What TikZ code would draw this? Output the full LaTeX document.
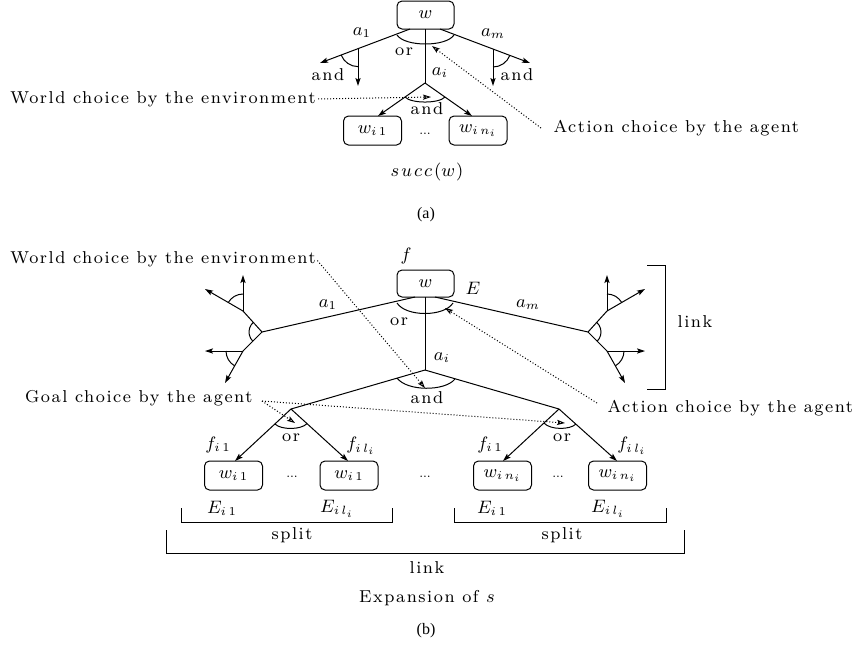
\documentclass[tikz,border=0pt]{standalone}
\usepackage{fontspec}
\setmainfont{lmroman8-regular.otf}[LetterSpace=9,ItalicFont=lmroman8-italic.otf,BoldFont=lmroman8-bold.otf]
\newfontfamily\capfont{Liberation Serif}
\usetikzlibrary{arrows.meta,angles}

\tikzset{
  lbl/.style={inner sep=0pt,font=\fontsize{8.6}{10}\selectfont},
  caplbl/.style={inner sep=0pt,font=\capfont\fontsize{8}{10}\selectfont},
  dotslbl/.style={inner sep=0pt,font=\addfontfeature{LetterSpace=0}\fontsize{6.5}{7}\selectfont},
  state/.style={draw,rounded corners=2.5pt,inner sep=0pt,minimum width=29pt,minimum height=14.5pt,font=\fontsize{8.6}{10}\selectfont},
  arr/.style={-{Stealth[length=4pt,width=2.6pt,inset=0.8pt]}},
  pointer/.style={dash pattern=on 0.5pt off 1pt,-{Stealth[length=4pt,width=2.6pt,inset=0.8pt,open]}},
  choice/.style={draw},
}

\begin{document}
\begin{tikzpicture}[x=0.5pt,y=-0.5pt,line width=0.5pt]
\path[use as bounding box,fill=white] (0,0) rectangle (856,645);

% ===================== (a) successors of a world =====================
\node[state,minimum width=28.5pt,minimum height=14pt] (wa) at (425.5,15) {$w$};
\coordinate (wa-l) at (410,29);
\coordinate (wa-m) at (425,29);
\coordinate (wa-r) at (440,29);
\coordinate (a1tip) at (320,63);
\coordinate (amtip) at (530,63);
\coordinate (aibr) at (425,83);
\draw[arr] (wa-l) -- (a1tip);
\draw[arr] (wa-r) -- (amtip);
\draw (wa-m) -- (aibr);
% or-choice over the actions
\draw (397,35) .. controls (405,47) and (446,47) .. (454,35);

% side actions, each with an and-choice
\coordinate (p1) at (358,48.6);
\coordinate (d1) at (358,86);
\draw[arr] (p1) -- (d1);
\pic[choice,angle radius=9pt] {angle=a1tip--p1--d1};
\coordinate (p2) at (493,49);
\coordinate (d2) at (493,86);
\draw[arr] (p2) -- (d2);
\pic[choice,angle radius=9pt] {angle=d2--p2--amtip};

% action a_i and its successor worlds
\node[state] (wai1) at (372.5,130.5) {$w_{i\,1}$};
\node[state] (wain) at (478,130.5) {$w_{i\,n_i}$};
\coordinate (ta1) at (378,116);
\coordinate (ta2) at (472,116);
\draw[arr] (aibr) -- (ta1);
\draw[arr] (aibr) -- (ta2);
\draw (405,97) .. controls (411,103.7) and (439,103.7) .. (445,97);

\node[lbl] (or-a) at (404,52) {or};
\node[lbl] (a1-a) at (362,33) {$a_1$};
\node[lbl] (am-a) at (493,34) {$a_m$};
\node[lbl] (ai-a) at (440,73) {$a_i$};
\node[lbl] (and-al) at (328,75) {and};
\node[lbl] (and-ar) at (517,75) {and};
\node[lbl] (and-am) at (427,109) {and};
\node[dotslbl] (dots-a) at (425,134) {...};
\node[lbl] (succ) at (427,172) {$s\mkern2mu u\mkern2mu c\mkern2mu c\mkern2mu(w\mkern1mu)$};
\node[caplbl] (cap-a) at (426,215) {(a)};

\node[lbl,anchor=west] (env-a) at (10,99) {World choice by the environment};
\node[lbl,anchor=west] (act-a) at (553,128) {Action choice by the agent};
\coordinate (env-a-tip) at (431,97);
\coordinate (act-a-from) at (541,128);
\coordinate (act-a-tip) at (432,46);
\draw[pointer,shorten <=1pt] (env-a.east) -- (env-a-tip);
\draw[pointer] (act-a-from) -- (act-a-tip);

% ===================== (b) expansion of a state =====================
\node[lbl] (f) at (406,256) {$f$};
\node[state,minimum width=28.5pt,minimum height=13.5pt] (wb) at (425.5,283.5) {$w$};
\node[lbl] (E) at (473,288) {$E$};
\coordinate (wb-l) at (415,297);
\coordinate (wb-m) at (425,297);
\coordinate (wb-r) at (435,297);
\coordinate (L) at (262,332);
\coordinate (R) at (588,332);
\coordinate (M) at (425,370);
\draw (wb-l) -- (L);
\draw (wb-r) -- (R);
\draw (wb-m) -- (M);
\draw (397,303) .. controls (406,317) and (444,317) .. (453,303);
\node[lbl] (or-b) at (399,322) {or};
\node[lbl] (a1-b) at (328,305) {$a_1$};
\node[lbl] (am-b) at (528,305) {$a_m$};
\node[lbl] (ai-b) at (442,358) {$a_i$};

% left action: two worlds, each with a goal choice
\coordinate (Lu) at (243,311);
\coordinate (Ll) at (243,351);
\coordinate (TLu1) at (205,289);
\coordinate (TLu2) at (243,275);
\coordinate (TLl1) at (205,351);
\coordinate (TLl2) at (225,383);
\draw (L) -- (Lu);
\draw (L) -- (Ll);
\draw[arr] (Lu) -- (TLu1);
\draw[arr] (Lu) -- (TLu2);
\draw[arr] (Ll) -- (TLl1);
\draw[arr] (Ll) -- (TLl2);
\pic[choice,angle radius=8.5pt] {angle=TLu2--Lu--TLu1};
\pic[choice,angle radius=8.5pt] {angle=TLl1--Ll--TLl2};
\pic[choice,angle radius=6.5pt] {angle=Lu--L--Ll};

% right action, mirrored
\coordinate (Ru) at (607,311);
\coordinate (Rl) at (607,351);
\coordinate (TRu1) at (607,275);
\coordinate (TRu2) at (645,289);
\coordinate (TRl1) at (645,351);
\coordinate (TRl2) at (625,383);
\draw (R) -- (Ru);
\draw (R) -- (Rl);
\draw[arr] (Ru) -- (TRu1);
\draw[arr] (Ru) -- (TRu2);
\draw[arr] (Rl) -- (TRl1);
\draw[arr] (Rl) -- (TRl2);
\pic[choice,angle radius=8.5pt] {angle=TRu2--Ru--TRu1};
\pic[choice,angle radius=8.5pt] {angle=TRl2--Rl--TRl1};
\pic[choice,angle radius=6.5pt] {angle=Rl--R--Ru};

% bracket for the link on the right
\draw (647,265) -- (665,265) -- (665,389) -- (647,389);
\node[lbl] (link-r) at (695,322) {link};

% action a_i: and-choice over worlds
\coordinate (Lb) at (291,409);
\coordinate (Rb) at (559,409);
\draw (M) -- (Lb);
\draw (M) -- (Rb);
\draw (397,378) .. controls (407,391.5) and (445,391.5) .. (455,379);
\node[lbl] (and-b) at (427,398) {and};

% goal choices of the first world
\node[state] (b1) at (233.5,475.5) {$w_{i\,1}$};
\node[state] (b2) at (349,475.5) {$w_{i\,1}$};
\coordinate (b1t) at (235,461);
\coordinate (b2t) at (348,461);
\draw[arr] (Lb) -- (b1t);
\draw[arr] (Lb) -- (b2t);
\draw (275,424) .. controls (281,430) and (301,430) .. (307,423.6);
\node[lbl] (or-bl) at (291,438) {or};

% goal choices of the last world
\node[state] (b3) at (502.5,475.5) {$w_{i\,n_i}$};
\node[state] (b4) at (617.5,475.5) {$w_{i\,n_i}$};
\coordinate (b3t) at (503,461);
\coordinate (b4t) at (617,461);
\draw[arr] (Rb) -- (b3t);
\draw[arr] (Rb) -- (b4t);
\draw (544,423) .. controls (550,430) and (570,430) .. (576,424);
\node[lbl] (or-br) at (562,438) {or};

\node[dotslbl] (dots1) at (292,477) {...};
\node[dotslbl] (dots2) at (425,477) {...};
\node[dotslbl] (dots3) at (558,477) {...};

\node[lbl] (f1) at (218,445) {$f_{i\,1}$};
\node[lbl] (f2) at (361,446) {$f_{i\,l_i}$};
\node[lbl] (f3) at (490,445) {$f_{i\,1}$};
\node[lbl] (f4) at (632,446) {$f_{i\,l_i}$};
\node[lbl] (E1) at (222,508) {$E_{i\,1}$};
\node[lbl] (E2) at (337,509) {$E_{i\,l_i}$};
\node[lbl] (E3) at (492,508) {$E_{i\,1}$};
\node[lbl] (E4) at (608,509) {$E_{i\,l_i}$};

% split and link brackets
\draw (181,508) -- (181,522) -- (392,522) -- (392,508);
\draw (454,508) -- (454,522) -- (666,522) -- (666,508);
\node[lbl] (split1) at (292,535) {split};
\node[lbl] (split2) at (562,535) {split};
\draw (166,530) -- (166,553) -- (684,553) -- (684,530);
\node[lbl] (link-b) at (427,568) {link};
\node[lbl] (expn) at (427,598) {Expansion of $s$};
\node[caplbl] (cap-b) at (426,631) {(b)};

% explanatory pointers
\node[lbl,anchor=west] (env-b) at (10,259) {World choice by the environment};
\node[lbl,anchor=west] (act-b) at (607,408) {Action choice by the agent};
\node[lbl,anchor=east] (goal) at (253,398) {Goal choice by the agent};
\coordinate (env-b-tip) at (425,388);
\coordinate (act-b-from) at (597,403);
\coordinate (act-b-tip) at (445,308);
\coordinate (goal-from) at (262,401);
\coordinate (goal-tip1) at (295,423);
\coordinate (goal-tip2) at (565,423);
\draw[pointer,shorten <=1pt] (env-b.east) -- (env-b-tip);
\draw[pointer] (act-b-from) -- (act-b-tip);
\draw[pointer] (goal-from) -- (goal-tip1);
\draw[pointer] (goal-from) -- (goal-tip2);
\end{tikzpicture}
\end{document}
